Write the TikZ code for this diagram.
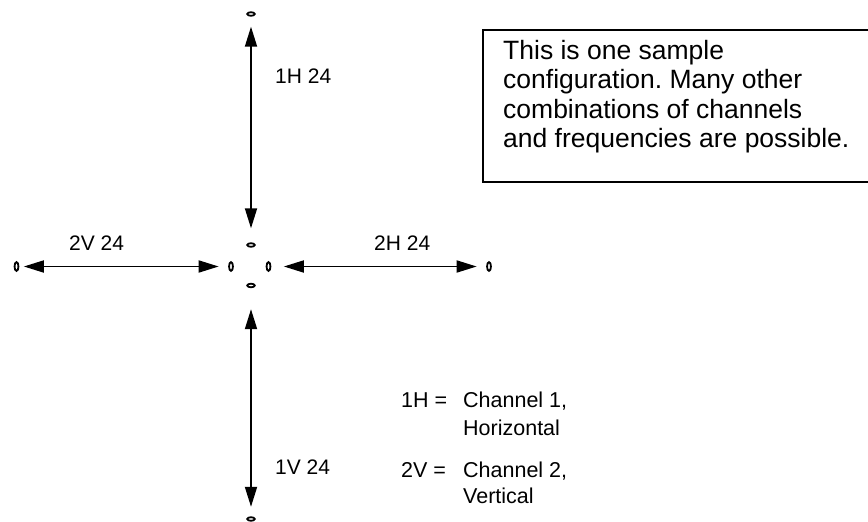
\documentclass[tikz,border=0pt]{standalone}
\usepackage{fontspec}
\setmainfont{Liberation Sans}
\usetikzlibrary{arrows.meta,shapes.geometric}
\frenchspacing
\begin{document}
\begin{tikzpicture}[x=1pt,y=-1pt,
  anth/.style={draw,ellipse,line width=1.8pt,inner sep=0pt,minimum width=7.5pt,minimum height=3.6pt},
  antv/.style={draw,ellipse,line width=1.8pt,inner sep=0pt,minimum width=3.9pt,minimum height=8.9pt},
  link/.style={line width=1.8pt,{Triangle[length=20pt,width=12pt]}-{Triangle[length=20pt,width=12pt]}},
  lbl/.style={anchor=base west,inner sep=0pt,font=\fontsize{21}{24}\selectfont},
  leg/.style={anchor=base west,inner sep=0pt,font=\fontsize{21.5}{26}\selectfont},
  note/.style={anchor=base west,inner sep=0pt,font=\fontsize{26.5}{30}\selectfont}]
\useasboundingbox (0,0) rectangle (868,522);
% antennas
\node[anth] (top) at (251,14) {};
\node[anth] (ctop) at (251,245) {};
\node[antv] (cleft) at (231,266.5) {};
\node[antv] (cright) at (268.5,266.5) {};
\node[anth] (cbot) at (251,285.5) {};
\node[anth] (bot) at (251,519) {};
\node[antv] (left) at (16.5,266.5) {};
\node[antv] (right) at (489,266.5) {};
% links
\draw[link,shorten <=10pt,shorten >=14pt] (top) -- (ctop);
\draw[link,shorten <=21pt,shorten >=9.5pt] (cbot) -- (bot);
\draw[link,shorten <=4.5pt,shorten >=9.5pt] (left) -- (cleft);
\draw[link,shorten <=12.5pt,shorten >=9.5pt] (cright) -- (right);
% labels
\node[lbl] (l1h) at (275,83) {1H 24};
\node[lbl] (l2v) at (69,250) {2V 24};
\node[lbl] (l2h) at (374,250) {2H 24};
\node[lbl] (l1v) at (275,474) {1V 24};
% note box
\draw[line width=1.8pt] (483,30) rectangle (873,182);
\node[note] (n1) at (503,59) {This is one sample};
\node[note] (n2) at (503,88.5) {configuration. Many other};
\node[note] (n3) at (503,118) {combinations of channels};
\node[note] (n4) at (503,147.5) {and frequencies are possible.};
% legend
\node[leg] (k1) at (401,407) {1H =};
\node[leg] (k1a) at (463,407) {Channel 1,};
\node[leg] (k1b) at (463,435) {Horizontal};
\node[leg] (k2) at (401,477) {2V =};
\node[leg] (k2a) at (463,477) {Channel 2,};
\node[leg] (k2b) at (463,503) {Vertical};
\end{tikzpicture}
\end{document}
